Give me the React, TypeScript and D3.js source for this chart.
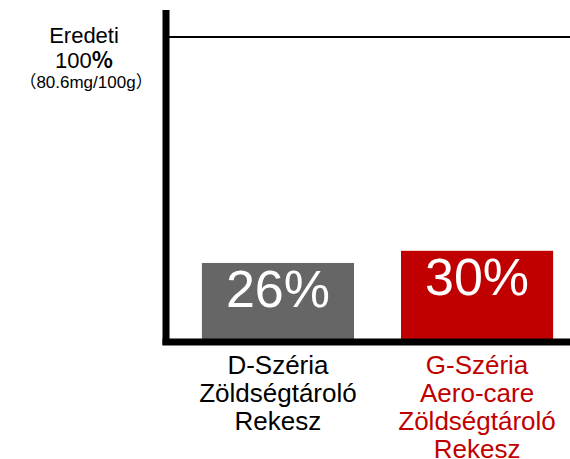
import React from "react";
import * as d3 from "d3";

const categories = ["D-Széria", "G-Széria"];
const labelLines = [
  ["D-Széria", "Zöldségtároló", "Rekesz"],
  ["G-Széria", "Aero-care", "Zöldségtároló", "Rekesz"],
];
const values = [26, 30];
const colors = ["#666666", "#c00000"];
const labelColors = ["#000000", "#c00000"];
const reference = 100;

const width = 570;
const height = 459;
const font = "Arial, 'Liberation Sans', sans-serif";
const cjk = "'Noto Sans CJK SC', sans-serif";

export default function App() {
  const x = d3
    .scaleBand<string>()
    .domain(categories)
    .range([178, 577])
    .paddingInner(0.236)
    .paddingOuter(0.12);

  const y = d3.scaleLinear().domain([0, 100]).range([342, 38]);
  const axisX = 166;

  return (
    <svg
      width={width}
      height={height}
      style={{ position: "absolute", left: 0, top: 0 }}
      fontFamily={font}
    >
      {/* bars */}
      {categories.map((c, i) => (
        <g key={c}>
          <rect
            x={x(c)}
            y={y(values[i])}
            width={x.bandwidth()}
            height={y(0) - y(values[i])}
            fill={colors[i]}
          />
          <text
            x={(x(c) as number) + x.bandwidth() / 2}
            y={y(values[i]) + 44}
            textAnchor="middle"
            fill="#fff"
            fontSize={52}
          >
            {values[i]}%
          </text>
          {labelLines[i].map((l, j) => (
            <text
              key={j}
              x={(x(c) as number) + x.bandwidth() / 2}
              y={374 + j * 28}
              textAnchor="middle"
              fill={labelColors[i]}
              fontSize={26}
            >
              {l}
            </text>
          ))}
        </g>
      ))}

      {/* 100% reference line */}
      <line
        x1={axisX}
        x2={width}
        y1={y(reference) - 1}
        y2={y(reference) - 1}
        stroke="#000"
        strokeWidth={2}
      />

      {/* axes */}
      <line x1={axisX} x2={axisX} y1={10} y2={345} stroke="#000" strokeWidth={7} />
      <line x1={axisX - 3.5} x2={width} y1={y(0)} y2={y(0)} stroke="#000" strokeWidth={7} />

      {/* reference label */}
      <text x={84} y={43} textAnchor="middle" fontSize={22} fill="#000">
        Eredeti
      </text>
      <text x={84} y={68} textAnchor="middle" fontSize={22} fill="#000">
        100<tspan fontFamily={cjk} fontWeight={700}>%</tspan>
      </text>
      <text x={86} y={88} textAnchor="middle" fontSize={17} fill="#000">
        <tspan fontFamily={cjk}>（</tspan>80.6mg/100g<tspan fontFamily={cjk}>）</tspan>
      </text>
    </svg>
  );
}
